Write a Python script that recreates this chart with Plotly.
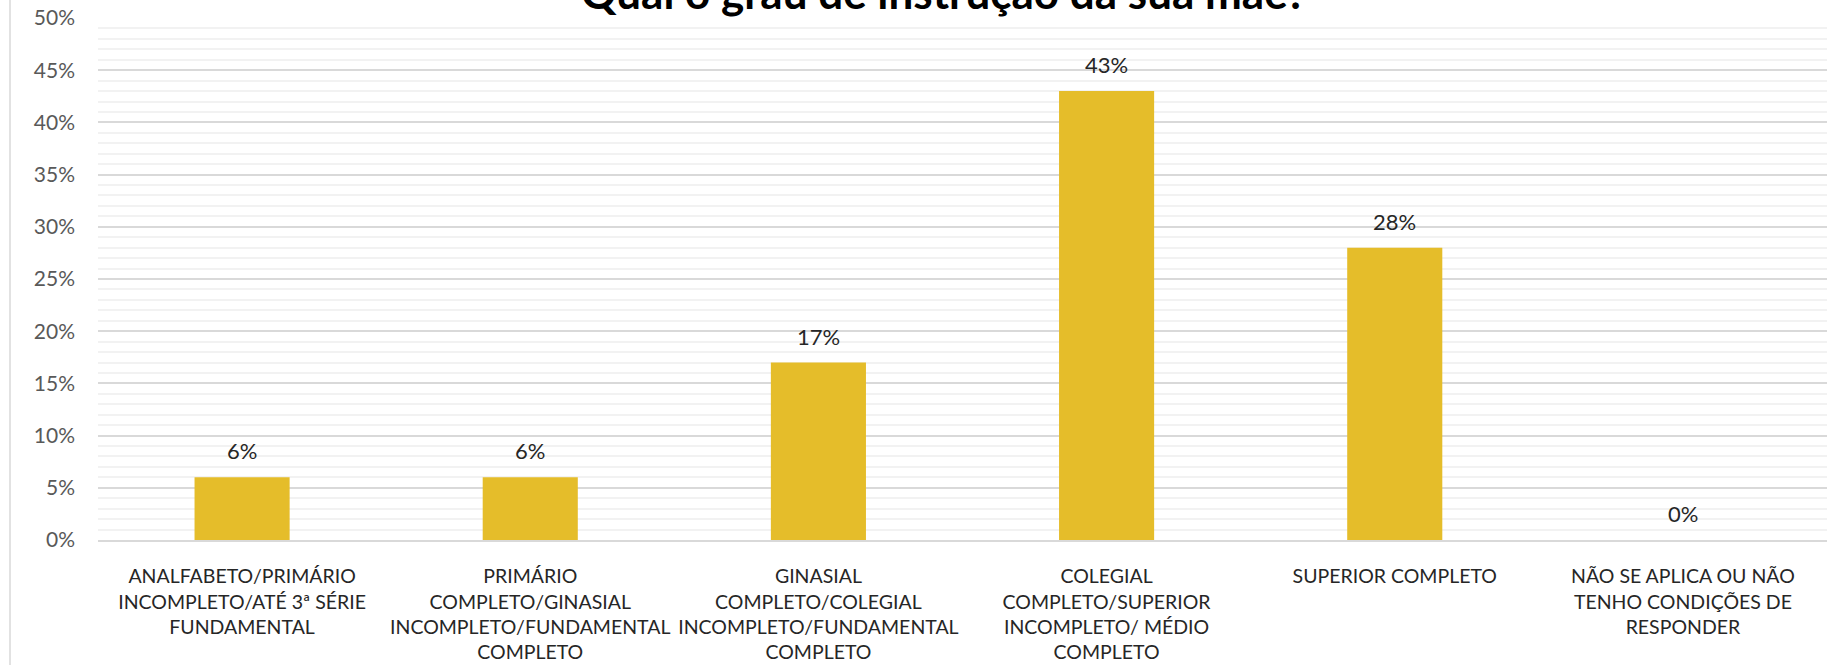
import plotly.graph_objects as go

title_text = "Qual o grau de instrução da sua mãe?"
categories = [
    "ANALFABETO/PRIMÁRIO<br>INCOMPLETO/ATÉ 3ª SÉRIE<br>FUNDAMENTAL",
    "PRIMÁRIO<br>COMPLETO/GINASIAL<br>INCOMPLETO/FUNDAMENTAL<br>COMPLETO",
    "GINASIAL<br>COMPLETO/COLEGIAL<br>INCOMPLETO/FUNDAMENTAL<br>COMPLETO",
    "COLEGIAL<br>COMPLETO/SUPERIOR<br>INCOMPLETO/ MÉDIO<br>COMPLETO",
    "SUPERIOR COMPLETO",
    "NÃO SE APLICA OU NÃO<br>TENHO CONDIÇÕES DE<br>RESPONDER",
]
values = [0.06, 0.06, 0.17, 0.43, 0.28, 0.0]
labels = ["6%", "6%", "17%", "43%", "28%", "0%"]
y_ticks = [0, 0.05, 0.10, 0.15, 0.20, 0.25, 0.30, 0.35, 0.40, 0.45, 0.50]
y_tick_text = ["0%", "5%", "10%", "15%", "20%", "25%", "30%", "35%", "40%", "45%", "50%"]

FONT = "Lato, 'Open Sans', sans-serif"
W, H = 1827, 665
ML, MR, MT, MB = 98, 0, 18, 125

fig = go.Figure(
    go.Bar(
        x=categories,
        y=values,
        width=0.33,
        marker=dict(color="#E5BD2A", line=dict(width=0)),
        cliponaxis=False,
    )
)

annotations = [
    dict(
        x=c, y=v, xref="x", yref="y",
        text=t, showarrow=False,
        xanchor="center", yanchor="bottom", yshift=11,
        font=dict(family=FONT, size=22, color="#262626"),
    )
    for c, v, t in zip(categories, values, labels)
]
annotations.append(
    dict(
        text="<b>" + title_text + "</b>",
        xref="paper", yref="paper",
        x=(944 - ML) / (W - ML - MR), y=1.0,
        xanchor="center", yanchor="bottom", yshift=-2,
        showarrow=False,
        font=dict(family=FONT, size=44, color="#000000"),
    )
)

fig.update_layout(
    width=W,
    height=H,
    margin=dict(l=ML, r=MR, t=MT, b=MB, pad=0),
    paper_bgcolor="white",
    plot_bgcolor="white",
    showlegend=False,
    font=dict(family=FONT),
    xaxis=dict(
        tickfont=dict(family=FONT, size=19.5, color="#262626"),
        showline=True,
        linecolor="#D9D9D9",
        linewidth=1.5,
        ticks="",
        showgrid=False,
        ticklabelstandoff=18,
    ),
    yaxis=dict(
        range=[0, 0.5],
        tickvals=y_ticks,
        ticktext=y_tick_text,
        tickfont=dict(family=FONT, size=21, color="#595959"),
        showgrid=True,
        gridcolor="#D9D9D9",
        gridwidth=1.5,
        zeroline=False,
        showline=False,
        ticks="",
        ticklabelstandoff=22,
        minor=dict(dtick=0.01, showgrid=True, gridcolor="#F2F2F2", gridwidth=1.5),
    ),
    annotations=annotations,
    shapes=[
        dict(
            type="line",
            xref="paper",
            yref="paper",
            x0=(10 - ML) / (W - ML - MR),
            x1=(10 - ML) / (W - ML - MR),
            y0=-MB / (H - MT - MB),
            y1=(H - MB) / (H - MT - MB) + 0.05,
            line=dict(color="#D9D9D9", width=1.5),
        )
    ],
)

fig.write_html(
    "out.html",
    config={"displayModeBar": False},
    post_script="document.body.style.margin='0';document.body.style.overflow='hidden';",
)
